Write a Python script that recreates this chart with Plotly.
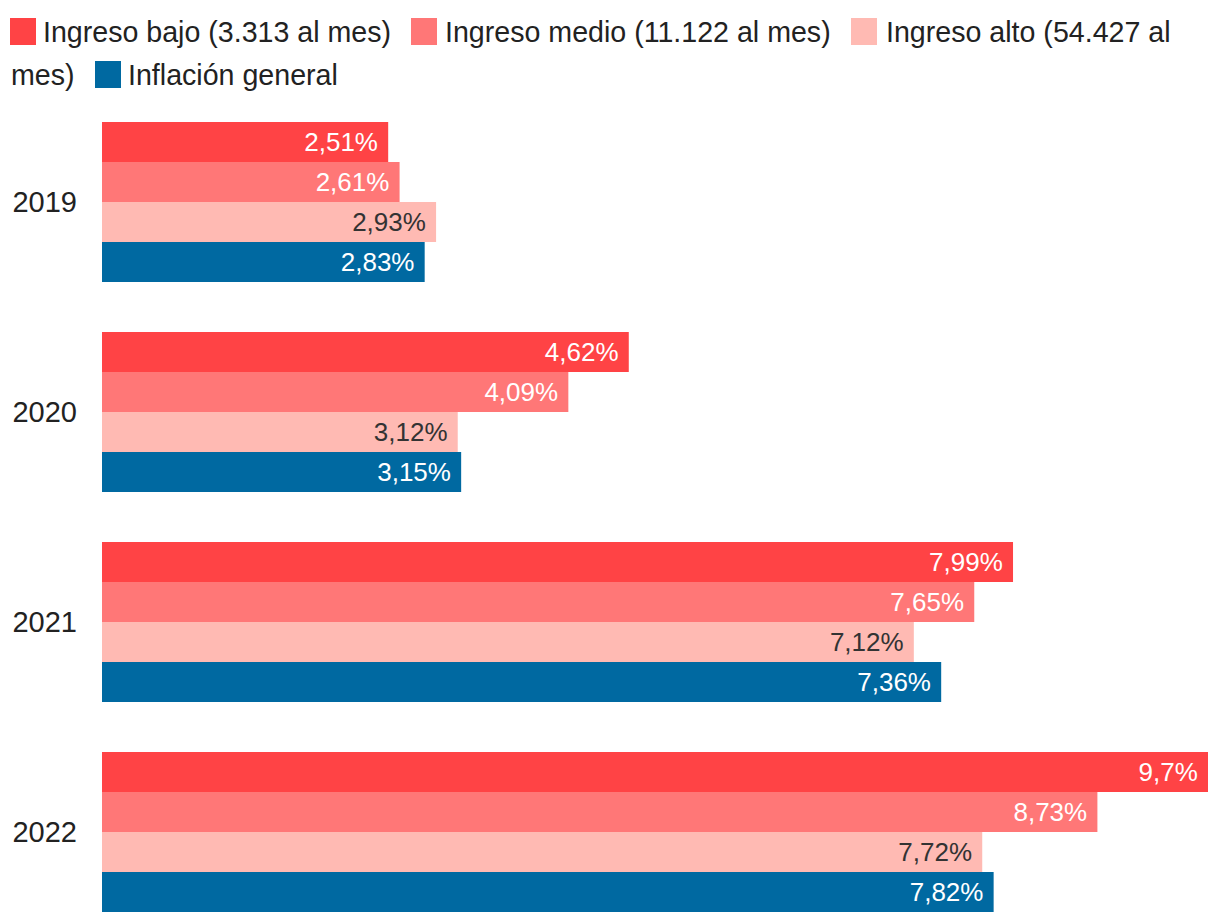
import plotly.graph_objects as go

years = ["2019", "2020", "2021", "2022"]
series_names = [
    "Ingreso bajo (3.313 al mes)",
    "Ingreso medio (11.122 al mes)",
    "Ingreso alto (54.427 al mes)",
    "Inflación general",
]
bajo = [2.51, 4.62, 7.99, 9.7]
medio = [2.61, 4.09, 7.65, 8.73]
alto = [2.93, 3.12, 7.12, 7.72]
general = [2.83, 3.15, 7.36, 7.82]

colors = ["#ff4345", "#ff7777", "#ffbab3", "#0069a1"]
text_colors = ["#ffffff", "#ffffff", "#333333", "#ffffff"]

W, H = 1220, 922
L, R, T, B = 102, 12, 97, 0
PW, PH = W - L - R, H - T - B

def xp(px):
    return (px - L) / PW

def yp(py):
    return (H - B - py) / PH

def fmt(v):
    return f"{v:g}".replace(".", ",") + "%\u00a0"

FONT = "Liberation Sans, Arial, sans-serif"

fig = go.Figure()
for name, vals, c, tc in zip(series_names, [bajo, medio, alto, general], colors, text_colors):
    fig.add_trace(go.Bar(
        y=years, x=vals, orientation="h", name=name,
        marker=dict(color=c, line=dict(width=0)),
        text=[fmt(v) for v in vals],
        textposition="inside", insidetextanchor="end",
        textfont=dict(family=FONT, size=26, color=tc),
        textangle=0, constraintext="none",
        hoverinfo="skip",
    ))

LEG_FONT = dict(family=FONT, size=28.6, color="#222222")

# custom wrapped legend
legend_items = [
    # (square_x0, row_center_y, text_x, text, color)
    (10, 32, 42, "Ingreso bajo (3.313 al mes)", colors[0]),
    (411, 32, 444, "Ingreso medio (11.122 al mes)", colors[1]),
    (851, 32, 885, "Ingreso alto (54.427 al", colors[2]),
    (None, 75, 10, "mes)", None),
    (95, 75, 127, "Inflación general", colors[3]),
]
shapes = []
annotations = []
for sx, cy, tx, txt, col in legend_items:
    if sx is not None:
        shapes.append(dict(type="rect", xref="paper", yref="paper",
                           x0=xp(sx), x1=xp(sx + 26), y0=yp(cy - 14), y1=yp(cy + 13),
                           fillcolor=col, line=dict(width=0)))
    annotations.append(dict(xref="paper", yref="paper", x=xp(tx), y=yp(cy),
                            xanchor="left", yanchor="middle", text=txt,
                            showarrow=False, font=LEG_FONT, borderpad=0))

fig.update_layout(
    width=W, height=H,
    margin=dict(l=L, r=R, t=T, b=B, pad=0),
    paper_bgcolor="white", plot_bgcolor="white",
    barmode="group", bargap=50 / 210, bargroupgap=0,
    showlegend=False,
    shapes=shapes, annotations=annotations,
    xaxis=dict(range=[0, 9.7], visible=False, fixedrange=True),
    yaxis=dict(range=[3 + 90 / 210 * 1.0, -0.5], type="category",
               showgrid=False, zeroline=False, showline=False,
               ticks="", ticklabelstandoff=24,
               tickfont=dict(family=FONT, size=29, color="#222222"),
               fixedrange=True),
    uniformtext=dict(mode=False),
)

fig.write_html("out.html")
